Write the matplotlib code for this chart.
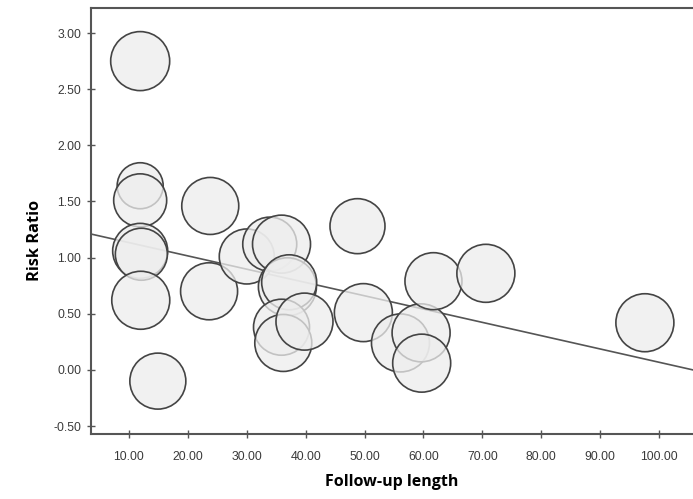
import matplotlib
matplotlib.use("Agg")
import matplotlib.pyplot as plt
import numpy as np

# study follow-up (months), risk ratio and relative weight
follow_up = [11.9, 11.9, 11.9, 11.9, 12.1, 12.0, 14.9, 23.8, 23.6, 30.0,
             33.9, 35.9, 36.9, 37.2, 35.9, 36.2, 39.8, 48.8, 49.8, 56.1,
             59.6, 59.7, 61.7, 70.6, 97.6]
risk_ratio = [2.75, 1.64, 1.51, 1.06, 1.03, 0.62, -0.10, 1.46, 0.70, 1.01,
              1.12, 1.12, 0.74, 0.78, 0.38, 0.24, 0.43, 1.28, 0.51, 0.24,
              0.33, 0.06, 0.79, 0.86, 0.42]
weight = [59, 46, 53, 55, 52, 58, 56, 57, 57, 55,
          54, 58, 58, 55, 56, 57, 57, 55, 58, 58,
          58, 58, 57, 58, 58]

# meta-regression fit
intercept = 1.252
slope = -0.01184

x_ticks = [10, 20, 30, 40, 50, 60, 70, 80, 90, 100]
y_ticks = [-0.5, 0.0, 0.5, 1.0, 1.5, 2.0, 2.5, 3.0]


def bubble_plot():
    fig = plt.figure(figsize=(6.93, 4.99), dpi=100)
    ax = fig.add_axes([91 / 693, 1 - 434 / 499, 1 - 91 / 693, (434 - 8) / 499])

    xlim = (3.55, 105.77)
    ax.set_xlim(*xlim)
    ax.set_ylim(-0.571, 3.223)

    xs = np.array(xlim)
    ax.plot(xs, intercept + slope * xs, color="#555555", lw=1.2, zorder=1)

    sizes = [(0.72 * w) ** 2 for w in weight]
    ax.scatter(follow_up, risk_ratio, s=sizes,
               facecolors=(0.93, 0.93, 0.93, 0.75),
               edgecolors="#444444", linewidths=1.2, zorder=2)

    ax.set_xticks(x_ticks)
    ax.set_yticks(y_ticks)
    ax.set_xticklabels([f"{v:.2f}" for v in x_ticks])
    ax.set_yticklabels([f"{v:.2f}" for v in y_ticks])
    ax.tick_params(direction="inout", length=6, width=1, color="#555555",
                   labelsize=8.8, labelcolor="#3a3a3a")
    ax.tick_params(axis="x", pad=9)
    ax.tick_params(axis="y", pad=4)
    for lbl in ax.get_xticklabels() + ax.get_yticklabels():
        lbl.set_fontfamily("Liberation Sans")

    ax.spines["right"].set_visible(False)
    for side in ("left", "bottom", "top"):
        ax.spines[side].set_color("#555555")
        ax.spines[side].set_linewidth(1.5)

    ax.set_xlabel("Follow-up length", fontsize=11.5, fontweight="bold",
                  family="Open Sans", labelpad=8)
    ax.set_ylabel("Risk Ratio", fontsize=11.8, fontweight="bold",
                  family="Open Sans", labelpad=12)
    ax.yaxis.set_label_coords(-0.08, 0.455)

    fig.savefig("out.png", dpi=100)


def main():
    bubble_plot()


if __name__ == "__main__":
    main()
